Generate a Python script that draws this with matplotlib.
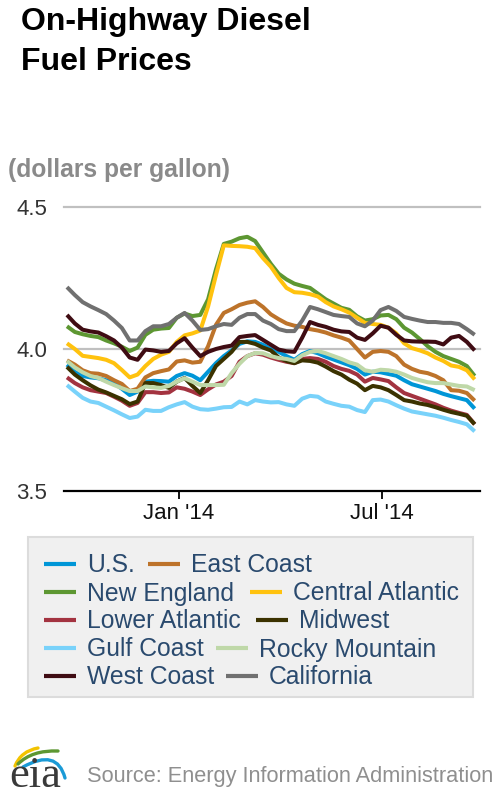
import matplotlib
matplotlib.use('Agg')
import matplotlib.pyplot as plt
import pandas as pd
from matplotlib.path import Path
from matplotlib.patches import PathPatch, Rectangle

plt.rcParams['font.family'] = ['Liberation Sans', 'DejaVu Sans']

# ---------------- data (dollars per gallon, weekly) ----------------
START = '2013-09-23'
N_WEEKS = 53

US = [3.945, 3.92, 3.905, 3.9, 3.897, 3.89, 3.88, 3.86, 3.838, 3.85,
      3.885, 3.888, 3.887, 3.885, 3.905, 3.915, 3.906, 3.89, 3.92, 3.95,
      3.975, 3.995, 4.018, 4.027, 4.025, 4.015, 4.0, 3.99, 3.975, 3.962,
      3.982, 3.993, 3.985, 3.973, 3.963, 3.953, 3.943, 3.93, 3.91, 3.92,
      3.918, 3.912, 3.906, 3.89, 3.876, 3.868, 3.86, 3.852, 3.842, 3.834,
      3.827, 3.82, 3.79]
EAST_COAST = [3.96, 3.945, 3.925, 3.915, 3.913, 3.905, 3.89, 3.877, 3.852, 3.86,
              3.9, 3.915, 3.922, 3.928, 3.956, 3.96, 3.952, 3.955, 4.01, 4.085,
              4.127, 4.14, 4.155, 4.163, 4.168, 4.148, 4.122, 4.105, 4.09, 4.082,
              4.078, 4.07, 4.065, 4.058, 4.048, 4.04, 4.03, 4.0, 3.97, 3.99,
              3.993, 3.99, 3.975, 3.945, 3.93, 3.92, 3.915, 3.905, 3.89, 3.855,
              3.853, 3.845, 3.818]
NEW_ENGLAND = [4.08, 4.06, 4.052, 4.046, 4.042, 4.03, 4.02, 4.008, 3.993, 4.005,
               4.05, 4.068, 4.072, 4.074, 4.11, 4.125, 4.116, 4.12, 4.175, 4.28,
               4.37, 4.378, 4.39, 4.395, 4.38, 4.34, 4.30, 4.265, 4.245, 4.23,
               4.222, 4.215, 4.195, 4.175, 4.16, 4.145, 4.138, 4.115, 4.10, 4.105,
               4.118, 4.12, 4.105, 4.075, 4.058, 4.035, 4.01, 3.99, 3.975, 3.965,
               3.955, 3.94, 3.905]
CENTRAL_ATLANTIC = [4.02, 4.0, 3.976, 3.972, 3.968, 3.962, 3.95, 3.926, 3.90, 3.91,
                    3.94, 3.965, 3.98, 3.99, 4.025, 4.048, 4.055, 4.065, 4.15, 4.26,
                    4.365, 4.363, 4.362, 4.36, 4.355, 4.32, 4.29, 4.25, 4.215, 4.20,
                    4.198, 4.193, 4.185, 4.165, 4.15, 4.14, 4.128, 4.11, 4.092, 4.088,
                    4.085, 4.075, 4.055, 4.02, 4.003, 3.995, 3.985, 3.97, 3.958, 3.942,
                    3.937, 3.925, 3.893]
LOWER_ATLANTIC = [3.90, 3.88, 3.865, 3.855, 3.85, 3.845, 3.832, 3.818, 3.80, 3.81,
                  3.848, 3.848, 3.845, 3.847, 3.865, 3.86, 3.85, 3.838, 3.858, 3.875,
                  3.885, 3.905, 3.955, 3.975, 3.985, 3.98, 3.97, 3.962, 3.955, 3.95,
                  3.965, 3.968, 3.965, 3.955, 3.94, 3.93, 3.923, 3.91, 3.885, 3.898,
                  3.893, 3.887, 3.865, 3.845, 3.835, 3.825, 3.815, 3.805, 3.793, 3.783,
                  3.775, 3.768, 3.735]
MIDWEST = [3.937, 3.91, 3.89, 3.872, 3.857, 3.847, 3.835, 3.823, 3.806, 3.815,
           3.88, 3.88, 3.873, 3.863, 3.885, 3.898, 3.87, 3.845, 3.89, 3.94,
           3.965, 3.99, 4.025, 4.025, 4.018, 4.005, 3.995, 3.97, 3.958, 3.95,
           3.96, 3.958, 3.952, 3.938, 3.922, 3.91, 3.892, 3.878, 3.855, 3.87,
           3.865, 3.855, 3.838, 3.82, 3.815, 3.808, 3.803, 3.795, 3.786, 3.778,
           3.772, 3.765, 3.735]
GULF_COAST = [3.873, 3.85, 3.828, 3.815, 3.81, 3.797, 3.784, 3.77, 3.757, 3.762,
              3.786, 3.782, 3.782, 3.795, 3.805, 3.813, 3.797, 3.788, 3.786, 3.79,
              3.795, 3.796, 3.815, 3.805, 3.82, 3.815, 3.812, 3.813, 3.805, 3.8,
              3.825, 3.835, 3.832, 3.815, 3.807, 3.8, 3.797, 3.785, 3.778, 3.82,
              3.822, 3.815, 3.802, 3.79, 3.78, 3.775, 3.77, 3.765, 3.758, 3.75,
              3.743, 3.735, 3.71]
ROCKY_MOUNTAIN = [3.958, 3.935, 3.918, 3.905, 3.898, 3.885, 3.873, 3.862, 3.852, 3.852,
                  3.868, 3.865, 3.863, 3.87, 3.885, 3.897, 3.885, 3.873, 3.873, 3.873,
                  3.874, 3.915, 3.948, 3.975, 3.986, 3.985, 3.975, 3.968, 3.965, 3.958,
                  3.978, 3.99, 3.993, 3.985, 3.975, 3.965, 3.953, 3.945, 3.925, 3.92,
                  3.927, 3.925, 3.92, 3.91, 3.898, 3.89, 3.883, 3.88, 3.88, 3.875,
                  3.87, 3.868, 3.855]
WEST_COAST = [4.12, 4.09, 4.068, 4.062, 4.058, 4.045, 4.03, 4.005, 3.97, 3.962,
              3.998, 3.995, 3.99, 3.993, 4.02, 4.038, 4.005, 3.975, 3.99, 4.0,
              4.007, 4.012, 4.042, 4.046, 4.049, 4.032, 4.015, 3.998, 3.992, 3.99,
              4.04, 4.095, 4.085, 4.078, 4.068, 4.062, 4.06, 4.04, 4.032, 4.055,
              4.082, 4.075, 4.05, 4.03, 4.027, 4.026, 4.026, 4.025, 4.016, 4.04,
              4.046, 4.025, 3.995]
CALIFORNIA = [4.218, 4.19, 4.165, 4.15, 4.137, 4.123, 4.10, 4.074, 4.03, 4.03,
              4.063, 4.08, 4.08, 4.088, 4.11, 4.127, 4.10, 4.067, 4.07, 4.08,
              4.088, 4.085, 4.11, 4.123, 4.123, 4.10, 4.088, 4.07, 4.063, 4.063,
              4.10, 4.148, 4.14, 4.13, 4.12, 4.116, 4.113, 4.09, 4.08, 4.10,
              4.137, 4.148, 4.134, 4.113, 4.106, 4.10, 4.095, 4.095, 4.092, 4.092,
              4.088, 4.07, 4.05]

SERIES_NAMES = ["U.S.", "East Coast", "New England", "Central Atlantic",
                "Lower Atlantic", "Midwest", "Gulf Coast", "Rocky Mountain",
                "West Coast", "California"]
SERIES_VALUES = [US, EAST_COAST, NEW_ENGLAND, CENTRAL_ATLANTIC, LOWER_ATLANTIC,
                 MIDWEST, GULF_COAST, ROCKY_MOUNTAIN, WEST_COAST, CALIFORNIA]
SERIES_COLORS = ["#0096d7", "#bd732a", "#5d9732", "#ffc20e", "#a33340",
                 "#3b3200", "#79d2fa", "#bfd8a8", "#3f0c13", "#707070"]

Y_TICKS = [3.5, 4.0, 4.5]
Y_TICK_LABELS = ["3.5", "4.0", "4.5"]
X_TICKS = ["2014-01-01", "2014-07-01"]
X_TICK_LABELS = ["Jan '14", "Jul '14"]

# ---------------- figure ----------------
W, H = 500, 800
fig = plt.figure(figsize=(W / 100, H / 100), dpi=100)
fig.patch.set_facecolor('white')

ax = fig.add_axes([64 / W, 1 - 491 / H, (480 - 64) / W, (491 - 207) / H])
dates = pd.date_range(START, periods=N_WEEKS, freq='7D')

for yv in (4.0, 4.5):
    ax.axhline(yv, color='#c0c0c0', lw=1.6, zorder=1, clip_on=False)

for vals, col in zip(SERIES_VALUES, SERIES_COLORS):
    ax.plot(dates, vals, color=col, lw=2.9, solid_joinstyle='round',
            solid_capstyle='butt', zorder=3)

ax.set_xlim(pd.Timestamp('2013-09-20 08:00'), pd.Timestamp('2014-09-26 18:00'))
ax.set_ylim(3.5, 4.5)
ax.set_yticks(Y_TICKS)
ax.set_yticklabels(Y_TICK_LABELS)
ax.set_xticks(pd.to_datetime(X_TICKS))
ax.set_xticklabels(X_TICK_LABELS)
ax.tick_params(axis='y', length=0, pad=12, labelsize=16, labelcolor='#333333')
ax.tick_params(axis='x', length=5.5, width=1.3, color='black', pad=3,
               labelsize=16, labelcolor='#111111')
for s in ('top', 'left', 'right'):
    ax.spines[s].set_visible(False)
ax.spines['bottom'].set_linewidth(1.6)
ax.spines['bottom'].set_color('black')
ax.spines['bottom'].set_zorder(5)
ax.set_facecolor('none')

# overlay in pixel coordinates for text / legend / logo
ov = fig.add_axes([0, 0, 1, 1], zorder=-1)
ov.set_xlim(0, W)
ov.set_ylim(H, 0)
ov.axis('off')

ov.text(21, 30, "On-Highway Diesel", fontsize=23, fontweight='bold',
        color='black', va='baseline', ha='left')
ov.text(21, 70, "Fuel Prices", fontsize=23, fontweight='bold',
        color='black', va='baseline', ha='left')
ov.text(8, 177, "(dollars per gallon)", fontsize=17.7, fontweight='bold',
        color='#8a8a8a', va='baseline', ha='left')

# legend box (flow layout, two items per row)
ov.add_patch(Rectangle((28, 537), 445, 160, facecolor='#f0f0f0',
                       edgecolor='#dcdcdc', lw=1.5))
second_x = [148, 250, 256, 216, 226]
row_y0, row_dy = 564, 28
for r in range(5):
    yrow = row_y0 + r * row_dy
    for c, x in enumerate((44, second_x[r])):
        i = 2 * r + c
        ov.plot([x, x + 32], [yrow, yrow], color=SERIES_COLORS[i], lw=3,
                solid_capstyle='butt')
        ov.text(x + 43, yrow + 8.5, SERIES_NAMES[i], fontsize=17.8,
                color='#2a4a6e', va='baseline', ha='left')

# source
ov.text(87, 782, "Source: Energy Information Administration", fontsize=15.7,
        color='#8f8f8f', va='baseline', ha='left')

# eia logo
ov.text(9, 787, "eia", fontsize=32, family=['Liberation Serif', 'DejaVu Serif'],
        color='#3a3a3a', va='baseline', ha='left')
for (p0, p1, p2), col in [(((15, 766), (21, 751), (38, 748)), '#f2c300'),
                          (((18, 764), (32, 750), (58, 751)), '#5d9732'),
                          (((23, 767), (57, 748), (65, 778)), '#1a9ad6')]:
    path = Path([p0, p1, p2], [Path.MOVETO, Path.CURVE3, Path.CURVE3])
    ov.add_patch(PathPatch(path, facecolor='none', edgecolor=col, lw=2.4,
                           capstyle='round'))

fig.savefig('out.png', dpi=100, facecolor='white')
